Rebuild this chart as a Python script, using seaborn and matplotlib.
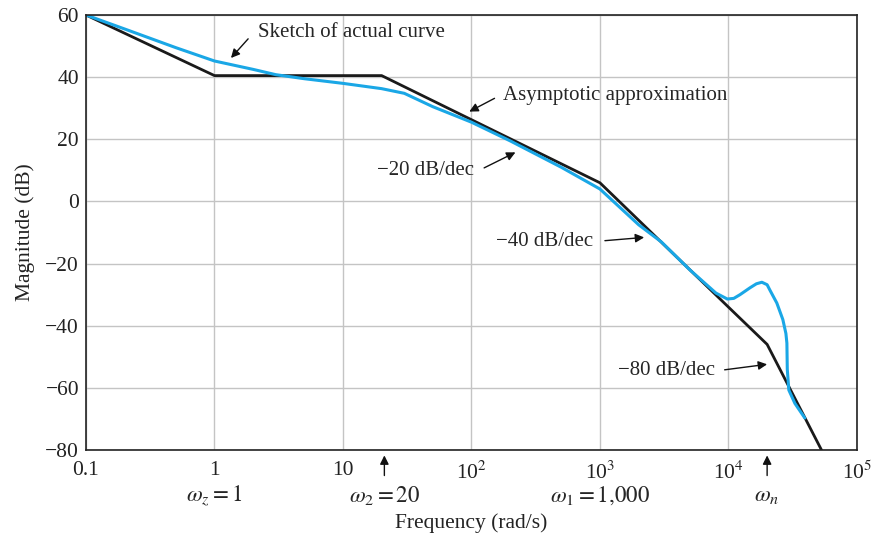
import matplotlib
matplotlib.use("Agg")
import matplotlib.pyplot as plt
import numpy as np
import pandas as pd
import seaborn as sns

# asymptotic (straight-line) approximation, corner points
asym_freq = [0.1, 1, 20, 1000, 10000, 20000, 53000]
asym_db = [60, 40.5, 40.5, 6, -34, -46, -80]

# sketch of actual curve
act_freq = [0.1, 0.2, 0.5, 1, 2, 3, 5, 10, 20, 30, 50, 100, 200, 500, 1000,
            2000, 3000, 5000, 8000, 9800, 11000, 12300, 14700, 16500, 18200,
            20000, 21000, 23800, 26500, 28000, 28500, 28700, 29500, 32900, 39300]
act_db = [60, 55.5, 49.5, 45.2, 42.5, 40.8, 39.5, 38, 36.3, 34.8, 30.5, 25.5,
          19.5, 11, 4, -7.5, -13, -22, -29.5, -31.4, -31.2, -30, -27.8, -26.5, -26,
          -26.8, -28.5, -32.7, -38, -42.5, -45.6, -54, -60.7, -65, -69.7]

xticks = [0.1, 1, 10, 100, 1000, 10000, 100000]
xticklabels = ["0.1", "1", "10", "10$^2$", "10$^3$", "10$^4$", "10$^5$"]
yticks = [60, 40, 20, 0, -20, -40, -60, -80]

asym = pd.DataFrame({"freq": asym_freq, "db": asym_db})
act = pd.DataFrame({"freq": act_freq, "db": act_db})

sns.set_theme(style="whitegrid")
plt.rcParams["font.family"] = ["Liberation Serif", "DejaVu Serif"]
plt.rcParams["mathtext.fontset"] = "stix"

fig = plt.figure(figsize=(8.8, 5.36), dpi=100)
ax = fig.add_axes([0.0977, 0.1604, 0.8761, 0.8116])

sns.lineplot(data=asym, x="freq", y="db", color="#1a1a1a", lw=2.0,
             estimator=None, sort=False, ax=ax)
sns.lineplot(data=act, x="freq", y="db", color="#1aa7e6", lw=2.2,
             estimator=None, sort=False, ax=ax)

ax.set_xscale("log")
ax.set_xlim(0.1, 1e5)
ax.set_ylim(-80, 60)
ax.set_xticks(xticks)
ax.set_xticklabels(xticklabels)
ax.minorticks_off()
ax.set_yticks(yticks)
ax.tick_params(axis="both", length=0, labelsize=15.5, colors="#222222")
ax.tick_params(axis="x", pad=8)
ax.tick_params(axis="y", pad=5)
ax.grid(True, color="#c4c4c4", lw=1)
for s in ax.spines.values():
    s.set_color("#222222")
    s.set_linewidth(1.2)
ax.set_xlabel("Frequency (rad/s)", fontsize=15.5, color="#222222")
ax.xaxis.set_label_coords(0.5, -0.168)
ax.xaxis.label.set_va("center")
ax.set_ylabel("Magnitude (dB)", fontsize=15.5, color="#222222")
ax.yaxis.set_label_coords(-0.066, 0.5)

# labels of the break frequencies under the axis
tr = ax.get_xaxis_transform()
ax.text(1, -0.104, r"$\omega_z = 1$", transform=tr, ha="center", va="center", fontsize=16.5)
ax.text(21, -0.104, r"$\omega_2 = 20$", transform=tr, ha="center", va="center", fontsize=16.5)
ax.text(1000, -0.104, r"$\omega_1 = 1{,}000$", transform=tr, ha="center", va="center", fontsize=16.5)
ax.text(20000, -0.104, r"$\omega_n$", transform=tr, ha="center", va="center", fontsize=16.5)
for f in [21, 20000]:
    ax.annotate("", xy=(f, -0.006), xytext=(f, -0.065), xycoords=tr, textcoords=tr,
                arrowprops=dict(arrowstyle="-|>", color="#111111", lw=1, mutation_scale=13),
                annotation_clip=False)

# callouts
arw = dict(arrowstyle="-|>", color="#111111", lw=1, mutation_scale=13)
ax.text(2.18, 54.5, "Sketch of actual curve", ha="left", va="center", fontsize=15)
ax.annotate("", xy=(1.30, 45.5), xytext=(1.89, 53), arrowprops=arw)
ax.text(176, 34, "Asymptotic approximation", ha="left", va="center", fontsize=15)
ax.annotate("", xy=(92, 28.5), xytext=(158, 33.6), arrowprops=arw)
ax.text(104, 10, "\u221220 dB/dec", ha="right", va="center", fontsize=15)
ax.annotate("", xy=(230, 16.2), xytext=(120, 10.4), arrowprops=arw)
ax.text(883, -13, "\u221240 dB/dec", ha="right", va="center", fontsize=15)
ax.annotate("", xy=(2320, -11.5), xytext=(1040, -12.7), arrowprops=arw)
ax.text(7850, -54.3, "\u221280 dB/dec", ha="right", va="center", fontsize=15)
ax.annotate("", xy=(21000, -52.3), xytext=(8890, -54.3), arrowprops=arw)

fig.savefig("out.png", dpi=100)
